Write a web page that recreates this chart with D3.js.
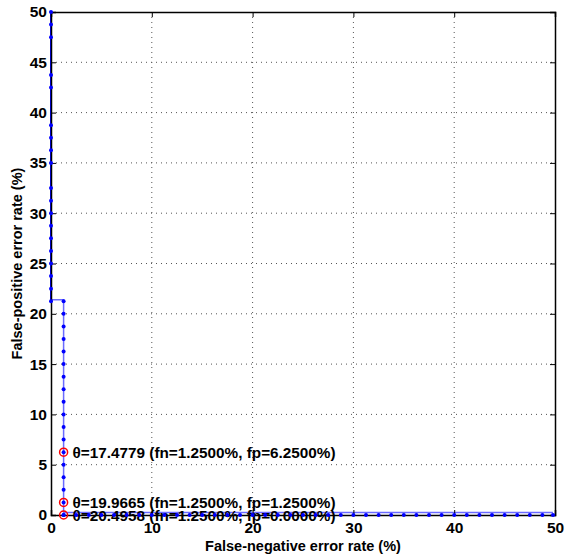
<!DOCTYPE html>
<html>
<head>
<meta charset="utf-8">
<script src="https://cdn.jsdelivr.net/npm/d3@7"></script>
<style>
  body { margin: 0; background: #fff; }
  text { font-family: "Liberation Sans", Arial, Helvetica, sans-serif; font-weight: bold; }
</style>
</head>
<body>
<div id="chart"></div>
<script>
// threshold sweep: points along fn = 0
const fpAtFn0 = [50, 48.75, 47.5, 43.75, 42.5, 38.75, 37.5, 36.25, 35, 32.5, 31.25, 30,
  28.75, 27.5, 26.25, 25, 23.75, 22.5, 21.25];
// points along fn = 1.25
const fpAtFn125 = [21.25, 20, 18.75, 17.5, 16.25, 15, 13.75, 12.5, 11.25, 10, 8.75, 7.5,
  6.25, 5, 3.75, 2.5, 1.25, 0];
// points along fp = 0
const fnAtFp0 = [1.25, 2.5, 3.75, 5, 6.25, 7.5, 8.75, 10, 11.25, 12.5, 13.75, 15, 16.25, 17.5,
  18.75, 20, 21.25, 22.5, 23.75, 25, 26.25, 27.5, 28.75, 30, 31.25, 32.5, 33.75, 35, 36.25,
  37.5, 38.75, 40, 41.25, 42.5, 43.75, 45, 46.25, 47.5, 48.75, 49.8];
// staircase outline (lighter line)
const stairFn = [0, 1.25, 1.25, 49.8];
const stairFp = [21.4, 21.4, 0.25, 0.25];
// marked thresholds
const markTheta = ["17.4779", "19.9665", "20.4958"];
const markFn = [1.25, 1.25, 1.25];
const markFp = [6.25, 1.25, 0];

const xTicks = [0, 10, 20, 30, 40, 50];
const yTicks = [0, 5, 10, 15, 20, 25, 30, 35, 40, 45, 50];

const margin = { top: 12, right: 11, bottom: 44, left: 51 };
const width = 566 - margin.left - margin.right;
const height = 559 - margin.top - margin.bottom;

const svg = d3.select("#chart")
  .append("svg")
  .attr("width", 566)
  .attr("height", 559)
  .append("g")
  .attr("transform", "translate(" + margin.left + "," + margin.top + ")");

const x = d3.scaleLinear().domain([0, 50]).range([0, width]);
const y = d3.scaleLinear().domain([0, 50]).range([height, 0]);

// dotted grid
svg.append("g").selectAll("line")
  .data(xTicks.slice(1, -1))
  .enter().append("line")
  .attr("x1", d => x(d)).attr("x2", d => x(d))
  .attr("y1", 0).attr("y2", height)
  .attr("stroke", "#555").attr("stroke-width", 1)
  .attr("stroke-dasharray", "1,4");
svg.append("g").selectAll("line")
  .data(yTicks.slice(1, -1))
  .enter().append("line")
  .attr("y1", d => y(d)).attr("y2", d => y(d))
  .attr("x1", 0).attr("x2", width)
  .attr("stroke", "#555").attr("stroke-width", 1)
  .attr("stroke-dasharray", "1,4");

// lighter staircase
const stair = stairFn.map((d, i) => ({ fn: d, fp: stairFp[i] }));
svg.append("path")
  .datum(stair)
  .attr("fill", "none")
  .attr("stroke", "#6b6bff")
  .attr("stroke-width", 1.5)
  .attr("d", d3.line().x(d => x(d.fn)).y(d => y(d.fp)));

// solid line on fn = 0
const seg0 = fpAtFn0.map(d => ({ fn: 0, fp: d }));
svg.append("path")
  .datum(seg0)
  .attr("fill", "none")
  .attr("stroke", "#0000ff")
  .attr("stroke-width", 2)
  .attr("d", d3.line().x(d => x(d.fn)).y(d => y(d.fp)));

// annotations
const marks = markTheta.map((t, i) => ({ t: t, fn: markFn[i], fp: markFp[i] }));
svg.append("g").selectAll("text")
  .data(marks)
  .enter().append("text")
  .attr("x", d => x(d.fn) + 9)
  .attr("y", d => y(d.fp))
  .attr("dy", "0.36em")
  .style("font-size", "15.3px")
  .text(d => "\u03b8=" + d.t + " (fn=" + d.fn.toFixed(4) + "%, fp=" + d.fp.toFixed(4) + "%)");

// axes
const xAxis = d3.axisBottom(x).tickValues(xTicks).tickSize(-5).tickPadding(7);
const yAxis = d3.axisLeft(y).tickValues(yTicks).tickSize(-5).tickPadding(4);

const gx = svg.append("g").attr("transform", "translate(0," + height + ")").call(xAxis);
const gy = svg.append("g").call(yAxis);
svg.append("g")
  .call(d3.axisTop(x).tickValues(xTicks).tickSize(-5).tickFormat(""));
svg.append("g").attr("transform", "translate(" + width + ",0)")
  .call(d3.axisRight(y).tickValues(yTicks).tickSize(-5).tickFormat(""));

svg.selectAll(".domain").attr("stroke", "#000").attr("stroke-width", 1.5);
svg.selectAll(".tick line").attr("stroke", "#000");
gx.selectAll("text").style("font-size", "15.5px").attr("fill", "#000");
gy.selectAll("text").style("font-size", "15.5px").attr("fill", "#000");

// markers
const pts = []
  .concat(fpAtFn0.map(d => ({ fn: 0, fp: d })))
  .concat(fpAtFn125.map(d => ({ fn: 1.25, fp: d })))
  .concat(fnAtFp0.map(d => ({ fn: d, fp: 0 })));
svg.append("g").selectAll("circle")
  .data(pts)
  .enter().append("circle")
  .attr("cx", d => x(d.fn))
  .attr("cy", d => y(d.fp))
  .attr("r", 2)
  .attr("fill", "#0000ff");

svg.append("g").selectAll("circle")
  .data(marks)
  .enter().append("circle")
  .attr("cx", d => x(d.fn))
  .attr("cy", d => y(d.fp))
  .attr("r", 4)
  .attr("fill", "none")
  .attr("stroke", "#ff0000")
  .attr("stroke-width", 1.5);

// axis titles
svg.append("text")
  .attr("x", width / 2)
  .attr("y", height + 36)
  .attr("text-anchor", "middle")
  .style("font-size", "14.5px")
  .text("False-negative error rate (%)");

svg.append("text")
  .attr("transform", "translate(" + (-margin.left + 22) + "," + (height / 2) + ") rotate(-90)")
  .attr("text-anchor", "middle")
  .style("font-size", "14.5px")
  .text("False-positive error rate (%)");
</script>
</body>
</html>
